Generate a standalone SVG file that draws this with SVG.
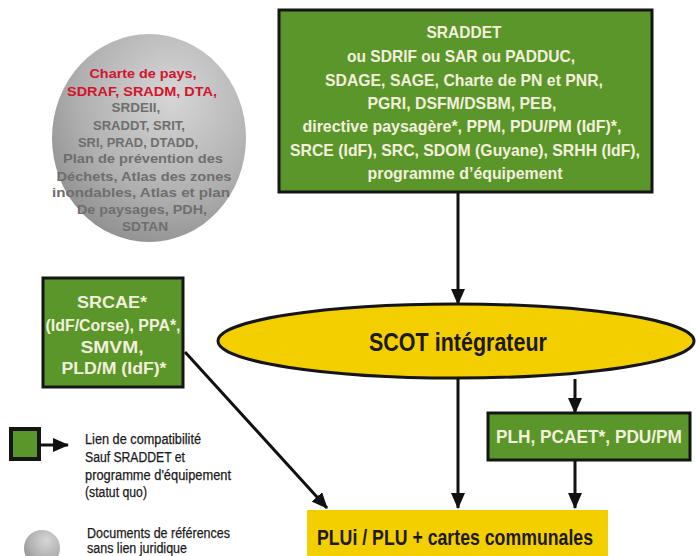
<svg xmlns="http://www.w3.org/2000/svg" width="696" height="556" viewBox="0 0 696 556">
<defs>
  <radialGradient id="gray" cx="0.62" cy="0.3" r="0.8">
    <stop offset="0" stop-color="#d6d6d6"/>
    <stop offset="0.6" stop-color="#b0b0b0"/>
    <stop offset="1" stop-color="#8a8a8a"/>
  </radialGradient>
  <marker id="arr" viewBox="0 0 16 14" refX="15" refY="7" markerWidth="16" markerHeight="14" markerUnits="userSpaceOnUse" orient="auto">
    <path d="M0,0 L16,7 L0,14 Z" fill="#111"/>
  </marker>
  <style>
    .green { fill: #5a9629; stroke: #151515; stroke-width: 3; }
    .gt { font-family: "Liberation Sans", Arial, sans-serif; font-weight: bold; fill: #f2f0dc; text-anchor: middle; }
    .ct { font-family: "Liberation Sans", Arial, sans-serif; font-weight: bold; font-size: 13.5px; text-anchor: middle; }
    .red { fill: #d3132b; }
    .grey { fill: #6e6e6e; }
    .dark { font-family: "Liberation Sans", Arial, sans-serif; font-weight: bold; fill: #1c1a10; text-anchor: middle; }
    .leg { font-family: "Liberation Sans", Arial, sans-serif; font-size: 14px; fill: #1a1a1a; stroke: #1a1a1a; stroke-width: 0.25; }
    .conn { stroke: #111; stroke-width: 3; fill: none; marker-end: url(#arr); }
  </style>
</defs>
<rect width="696" height="556" fill="#ffffff"/>

<g id="connectors">
  <line class="conn" x1="458" y1="193" x2="458" y2="304"/>
  <line class="conn" x1="458" y1="379" x2="458" y2="508"/>
  <line class="conn" x1="575" y1="379" x2="575" y2="413"/>
  <line class="conn" x1="575" y1="461" x2="575" y2="508"/>
  <line class="conn" x1="185" y1="352" x2="327" y2="508"/>
</g>

<g id="node-sraddet">
  <rect class="green" x="279" y="10" width="373" height="182"/>
  <text class="gt" font-size="16.5" x="464" y="38" textLength="75" lengthAdjust="spacingAndGlyphs">SRADDET</text>
  <text class="gt" font-size="16.5" x="461" y="62" textLength="228" lengthAdjust="spacingAndGlyphs">ou SDRIF ou SAR ou PADDUC,</text>
  <text class="gt" font-size="16.5" x="464" y="86" textLength="278" lengthAdjust="spacingAndGlyphs">SDAGE, SAGE, Charte de PN et PNR,</text>
  <text class="gt" font-size="16.5" x="462" y="109" textLength="189" lengthAdjust="spacingAndGlyphs">PGRI, DSFM/DSBM, PEB,</text>
  <text class="gt" font-size="16.5" x="462" y="132" textLength="319" lengthAdjust="spacingAndGlyphs">directive paysagère*, PPM, PDU/PM (IdF)*,</text>
  <text class="gt" font-size="16.5" x="465" y="156" textLength="350" lengthAdjust="spacingAndGlyphs">SRCE (IdF), SRC, SDOM (Guyane), SRHH (IdF),</text>
  <text class="gt" font-size="16.5" x="465" y="179" textLength="195" lengthAdjust="spacingAndGlyphs">programme d’équipement</text>
</g>

<g id="node-references">
  <ellipse cx="149" cy="138" rx="97" ry="104" fill="url(#gray)"/>
  <text class="ct red" x="143" y="78" textLength="107" lengthAdjust="spacingAndGlyphs">Charte de pays,</text>
  <text class="ct red" x="142" y="96" textLength="150" lengthAdjust="spacingAndGlyphs">SDRAF, SRADM, DTA,</text>
  <text class="ct grey" x="136" y="112">SRDEII,</text>
  <text class="ct grey" x="139" y="130" textLength="92" lengthAdjust="spacingAndGlyphs">SRADDT, SRIT,</text>
  <text class="ct grey" x="138" y="147" textLength="120" lengthAdjust="spacingAndGlyphs">SRI, PRAD, DTADD,</text>
  <text class="ct grey" x="143" y="163" textLength="160" lengthAdjust="spacingAndGlyphs">Plan de prévention des</text>
  <text class="ct grey" x="144" y="181" textLength="175" lengthAdjust="spacingAndGlyphs">Déchets, Atlas des zones</text>
  <text class="ct grey" x="141" y="197" textLength="178" lengthAdjust="spacingAndGlyphs">inondables, Atlas et plan</text>
  <text class="ct grey" x="142" y="214" textLength="130" lengthAdjust="spacingAndGlyphs">De paysages, PDH,</text>
  <text class="ct grey" x="145" y="231" textLength="46" lengthAdjust="spacingAndGlyphs">SDTAN</text>
</g>

<g id="node-srcae">
  <rect class="green" x="43" y="278" width="140" height="109"/>
  <text class="gt" font-size="16" x="112" y="308" textLength="70" lengthAdjust="spacingAndGlyphs">SRCAE*</text>
  <text class="gt" font-size="16" x="113" y="331" textLength="135" lengthAdjust="spacingAndGlyphs">(IdF/Corse), PPA*,</text>
  <text class="gt" font-size="16" x="112" y="353" textLength="63" lengthAdjust="spacingAndGlyphs">SMVM,</text>
  <text class="gt" font-size="16" x="114" y="374" textLength="105" lengthAdjust="spacingAndGlyphs">PLD/M (IdF)*</text>
</g>

<g id="node-scot">
  <ellipse cx="456" cy="341" rx="238" ry="37" fill="#f4cf00" stroke="#151515" stroke-width="3"/>
  <text class="dark" font-size="25.5" x="458" y="351" textLength="178" lengthAdjust="spacingAndGlyphs">SCOT intégrateur</text>
</g>

<g id="node-plh">
  <rect class="green" x="488" y="413" width="202" height="47"/>
  <text class="gt" font-size="18.5" x="589" y="443" textLength="186" lengthAdjust="spacingAndGlyphs">PLH, PCAET*, PDU/PM</text>
</g>

<g id="node-plu">
  <rect x="307" y="510" width="301" height="50" fill="#f4cf00"/>
  <text class="dark" font-size="22" x="455" y="545" textLength="276" lengthAdjust="spacingAndGlyphs">PLUi / PLU + cartes communales</text>
</g>

<g id="legend">
  <rect x="11" y="429" width="28" height="30" fill="#5a9629" stroke="#151515" stroke-width="4"/>
  <line x1="39" y1="445" x2="68" y2="445" stroke="#111" stroke-width="3" marker-end="url(#arr)"/>
  <text class="leg" x="85" y="444" textLength="116" lengthAdjust="spacingAndGlyphs">Lien de compatibilité</text>
  <text class="leg" x="85" y="462" textLength="100" lengthAdjust="spacingAndGlyphs">Sauf SRADDET et</text>
  <text class="leg" x="85" y="480" textLength="146" lengthAdjust="spacingAndGlyphs">programme d'équipement</text>
  <text class="leg" x="85" y="497" textLength="62" lengthAdjust="spacingAndGlyphs">(statut quo)</text>
  <circle cx="42" cy="548" r="18" fill="url(#gray)"/>
  <text class="leg" x="87" y="538" textLength="143" lengthAdjust="spacingAndGlyphs">Documents de références</text>
  <text class="leg" x="87" y="553" font-size="13" textLength="100" lengthAdjust="spacingAndGlyphs">sans lien juridique</text>
</g>
</svg>
